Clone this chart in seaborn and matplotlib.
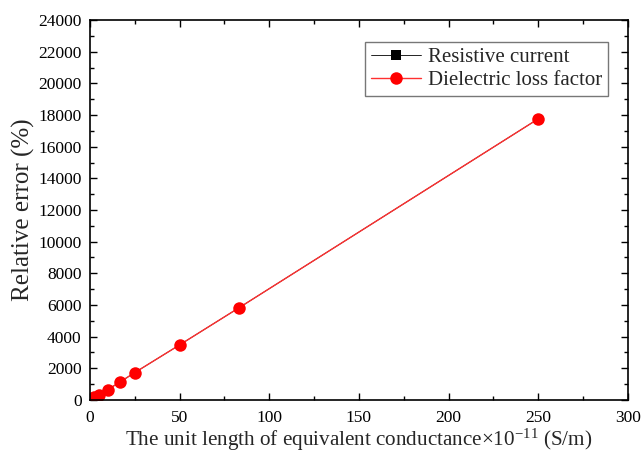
import matplotlib
matplotlib.use("Agg")
import matplotlib.pyplot as plt
from matplotlib.ticker import MultipleLocator
import seaborn as sns
import pandas as pd

conductance = [2.5, 5, 10, 16.7, 25, 50, 83.3, 250]
resistive_current = [150, 320, 650, 1120, 1720, 3470, 5830, 17760]
dielectric_loss = [150, 320, 650, 1120, 1720, 3470, 5830, 17760]

sns.set_theme(style="ticks")
plt.rcParams["font.family"] = ["Liberation Serif", "DejaVu Serif"]
plt.rcParams["mathtext.fontset"] = "custom"
plt.rcParams["mathtext.rm"] = "Liberation Serif"
plt.rcParams["mathtext.it"] = "Liberation Serif:italic"

fig = plt.figure(figsize=(6.42, 4.58), dpi=100)
ax = fig.add_axes([0.140, 0.127, 0.838, 0.829])

df1 = pd.DataFrame({"x": conductance, "y": resistive_current})
df2 = pd.DataFrame({"x": conductance, "y": dielectric_loss})

sns.lineplot(data=df1, x="x", y="y", ax=ax, color="black", marker="s",
             markersize=6, markeredgewidth=0, linewidth=0.6,
             label="Resistive current")
sns.lineplot(data=df2, x="x", y="y", ax=ax, color="#ff3030", marker="o",
             markersize=9, markeredgewidth=0, linewidth=1.0,
             label="Dielectric loss factor")
for ln in ax.lines:
    if ln.get_color() == "#ff3030":
        ln.set_markerfacecolor("red")

ax.set_xlim(0, 300)
ax.set_ylim(0, 24000)
ax.xaxis.set_major_locator(MultipleLocator(50))
ax.xaxis.set_minor_locator(MultipleLocator(25))
ax.yaxis.set_major_locator(MultipleLocator(2000))
ax.yaxis.set_minor_locator(MultipleLocator(1000))
ax.tick_params(which="both", direction="in", top=True, right=True,
               labelsize=12.5, colors="black")
ax.tick_params(axis="x", which="major", pad=7)
ax.tick_params(axis="y", which="major", pad=6)
ax.tick_params(which="major", length=5, width=1)
ax.tick_params(which="minor", length=3, width=1)
for s in ax.spines.values():
    s.set_linewidth(1.2)
    s.set_color("black")

ax.set_xlabel("The unit length of equivalent conductance×10$^{-11}$ (S/m)",
              fontsize=15.2, labelpad=1)
ax.set_ylabel("Relative error (%)", fontsize=18, labelpad=2)

leg = ax.legend(loc="upper right", bbox_to_anchor=(0.975, 0.96), fontsize=15,
                frameon=True, fancybox=False, edgecolor="#555555",
                borderpad=0.3, labelspacing=0.15, handlelength=2.4,
                handletextpad=0.3, borderaxespad=0.3)
leg.get_frame().set_linewidth(1.0)
for h in leg.legend_handles:
    if h.get_marker() == "s":
        h.set_markersize(7)

fig.savefig("out.png", dpi=100)
